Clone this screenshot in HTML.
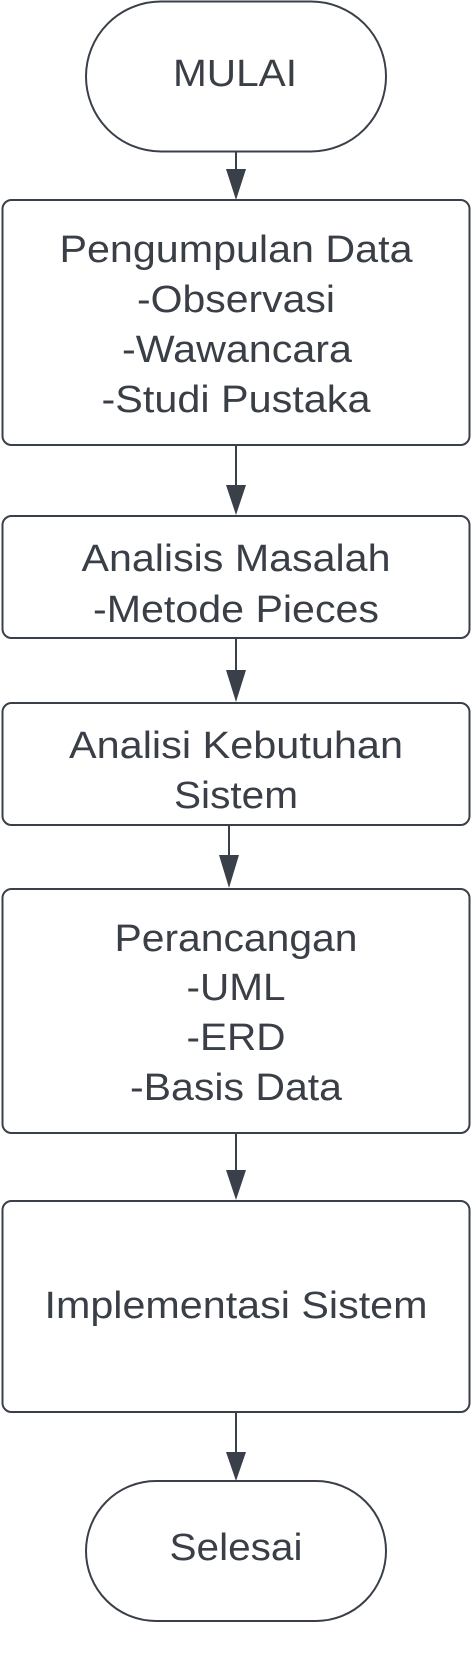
<!DOCTYPE html>
<html><head><meta charset="utf-8"><style>
html,body{margin:0;padding:0;background:#fff;}
svg{display:block;}
text{font-family:"Liberation Sans",Arial,sans-serif;font-size:38px;fill:#3a3f47;}
</style></head><body>
<svg width="471" height="1656" viewBox="0 0 471 1656" xmlns="http://www.w3.org/2000/svg">
<g fill="#fff" stroke="#3a4049" stroke-width="2">
<rect x="86" y="1.5" width="300" height="150" rx="75" ry="75"/>
<rect x="2.5" y="200" width="467" height="245" rx="9"/>
<rect x="2.5" y="516" width="467" height="122" rx="9"/>
<rect x="2.5" y="703" width="467" height="122" rx="9"/>
<rect x="2.5" y="889" width="467" height="244" rx="9"/>
<rect x="2.5" y="1201" width="467" height="211" rx="9"/>
<rect x="86" y="1481" width="300" height="140" rx="70" ry="70"/>
</g>
<g stroke="#3a4049" stroke-width="2">
<line x1="236" y1="152" x2="236" y2="172"/>
<line x1="236" y1="445" x2="236" y2="487"/>
<line x1="236" y1="638" x2="236" y2="672"/>
<line x1="229" y1="825" x2="229" y2="858"/>
<line x1="236" y1="1133" x2="236" y2="1172"/>
<line x1="236" y1="1412" x2="236" y2="1454"/>
</g>
<g fill="#3a4049">
<polygon points="226,169 246,169 236,200"/>
<polygon points="226,485 246,485 236,515"/>
<polygon points="226,670 246,670 236,702"/>
<polygon points="219,855 239,855 229,888"/>
<polygon points="226,1170 246,1170 236,1200"/>
<polygon points="226,1452 246,1452 236,1481"/>
</g>
<g text-anchor="middle" lengthAdjust="spacingAndGlyphs">
<text x="235" y="86" textLength="124" lengthAdjust="spacingAndGlyphs">MULAI</text>
<text x="236" y="262" textLength="353" lengthAdjust="spacingAndGlyphs">Pengumpulan Data</text>
<text x="236" y="312" textLength="198" lengthAdjust="spacingAndGlyphs">-Observasi</text>
<text x="237" y="362" textLength="230" lengthAdjust="spacingAndGlyphs">-Wawancara</text>
<text x="236" y="412" textLength="269" lengthAdjust="spacingAndGlyphs">-Studi Pustaka</text>
<text x="236" y="571" textLength="309" lengthAdjust="spacingAndGlyphs">Analisis Masalah</text>
<text x="236" y="622" textLength="286" lengthAdjust="spacingAndGlyphs">-Metode Pieces</text>
<text x="236" y="758" textLength="334" lengthAdjust="spacingAndGlyphs">Analisi Kebutuhan</text>
<text x="236" y="808" textLength="124" lengthAdjust="spacingAndGlyphs">Sistem</text>
<text x="236" y="951" textLength="243" lengthAdjust="spacingAndGlyphs">Perancangan</text>
<text x="236" y="1000" textLength="99" lengthAdjust="spacingAndGlyphs">-UML</text>
<text x="236" y="1050" textLength="99" lengthAdjust="spacingAndGlyphs">-ERD</text>
<text x="236" y="1100" textLength="212" lengthAdjust="spacingAndGlyphs">-Basis Data</text>
<text x="236" y="1318" textLength="383" lengthAdjust="spacingAndGlyphs">Implementasi Sistem</text>
<text x="236" y="1560" textLength="133" lengthAdjust="spacingAndGlyphs">Selesai</text>
</g>
</svg>
</body></html>
